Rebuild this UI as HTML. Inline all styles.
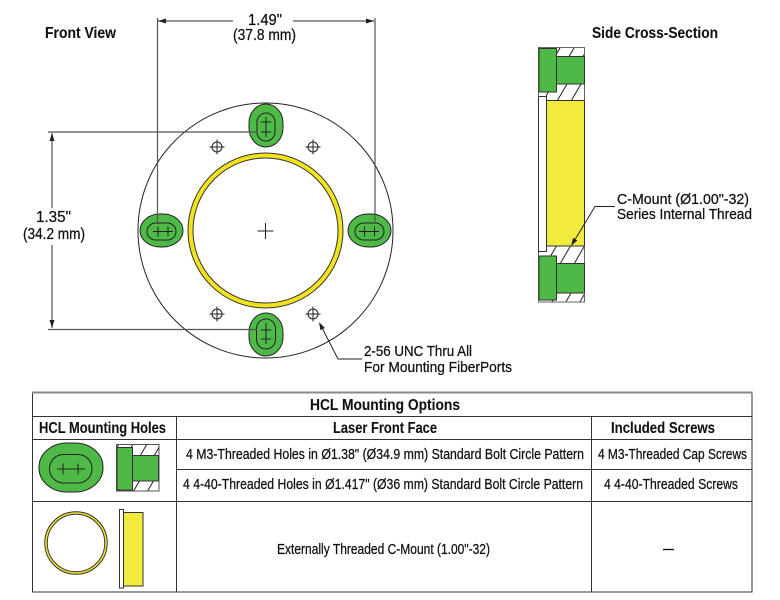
<!DOCTYPE html>
<html><head><meta charset="utf-8"><style>
html,body{margin:0;padding:0;background:#fff;}
svg{display:block;}
text{font-family:"Liberation Sans",sans-serif;fill:#111;stroke:#111;stroke-width:0.25;}
.b{font-weight:bold;stroke-width:0.1;}
</style></head><body>
<svg width="780" height="600" viewBox="0 0 780 600" xmlns="http://www.w3.org/2000/svg">
<defs>
<pattern id="h" patternUnits="userSpaceOnUse" width="14" height="24">
<path d="M0,24 L14,0 M-14,24 L0,0 M14,24 L28,0" stroke="#222" stroke-width="1"/>
</pattern>
</defs>
<rect width="780" height="600" fill="#fff"/>

<!-- Titles -->
<text class="b" x="45" y="38" font-size="16" textLength="71" lengthAdjust="spacingAndGlyphs">Front View</text>
<text class="b" x="592" y="38" font-size="16" textLength="126" lengthAdjust="spacingAndGlyphs">Side Cross-Section</text>

<!-- Front view -->
<circle cx="265.5" cy="230.5" r="127.5" fill="none" stroke="#222" stroke-width="1"/>
<circle cx="265.5" cy="230.5" r="75" fill="none" stroke="#f2e41c" stroke-width="5"/>
<circle cx="265.5" cy="230.5" r="77.5" fill="none" stroke="#333" stroke-width="1"/>
<circle cx="265.5" cy="230.5" r="72.5" fill="none" stroke="#333" stroke-width="1"/>
<path d="M257.5,231 H273.5 M265.5,223 V239" stroke="#222" stroke-width="1"/>

<!-- small holes -->
<g fill="none" stroke="#222" stroke-width="1">
<circle cx="217" cy="147" r="5"/><path d="M209.5,147 H224.5 M217,139.5 V154.5"/>
<circle cx="313" cy="147" r="5"/><path d="M305.5,147 H320.5 M313,139.5 V154.5"/>
<circle cx="217" cy="314" r="5"/><path d="M209.5,314 H224.5 M217,306.5 V321.5"/>
<circle cx="313" cy="314" r="5"/><path d="M305.5,314 H320.5 M313,306.5 V321.5"/>
</g>

<!-- slots -->
<g fill="#4fb947" stroke="#222" stroke-width="1">
<rect x="249" y="104" width="34" height="43" rx="17" ry="19"/>
<rect x="249" y="313" width="34" height="43" rx="17" ry="19"/>
<rect x="140" y="214" width="43" height="33" rx="20" ry="16.5"/>
<rect x="348" y="214" width="43" height="33" rx="20" ry="16.5"/>
</g>
<g fill="none" stroke="#222" stroke-width="1">
<rect x="257" y="113" width="18" height="28" rx="9"/>
<rect x="256.5" y="319" width="19" height="30" rx="9.5"/>
<rect x="147" y="223" width="29" height="17" rx="8.5"/>
<rect x="355" y="223" width="29" height="17" rx="8.5"/>
<path d="M266,117 V137 M261,122 H271 M261,132 H271"/>
<path d="M266,323 V344 M261,330 H271 M261,339 H271"/>
<path d="M153,231.5 H173 M158,226.5 V236.5 M168,226.5 V236.5"/>
<path d="M359,231.5 H379 M364.5,226.5 V236.5 M374.5,226.5 V236.5"/>
</g>

<!-- dimension lines -->
<g stroke="#555" stroke-width="1.2" fill="none">
<path d="M157.5,18 V223 M375,18 V222"/>
<path d="M48,132 H257 M48,329.5 H257"/>
<path d="M158,21 H233 M293,21 H374"/>
<path d="M52,133 V208 M52,245 V328"/>
</g>
<g fill="#222">
<polygon points="158,21 166,18.5 166,23.5"/>
<polygon points="374,21 366,18.5 366,23.5"/>
<polygon points="52,133 49.5,141 54.5,141"/>
<polygon points="52,328 49.5,320 54.5,320"/>
</g>
<text x="248" y="25" font-size="15.5" textLength="34" lengthAdjust="spacingAndGlyphs">1.49"</text>
<text x="233" y="40" font-size="15.5" textLength="63" lengthAdjust="spacingAndGlyphs">(37.8 mm)</text>
<text x="36" y="222" font-size="15.5" textLength="35" lengthAdjust="spacingAndGlyphs">1.35"</text>
<text x="23" y="239" font-size="15.5" textLength="62" lengthAdjust="spacingAndGlyphs">(34.2 mm)</text>

<!-- 2-56 leader -->
<path d="M362,359 H338 L322.7,329.1" stroke="#222" stroke-width="1" fill="none"/>
<polygon points="319,322 324.9,328 320.4,330.2" fill="#222"/>
<text x="364" y="356" font-size="15" textLength="108" lengthAdjust="spacingAndGlyphs">2-56 UNC Thru All</text>
<text x="364" y="372" font-size="15" textLength="148" lengthAdjust="spacingAndGlyphs">For Mounting FiberPorts</text>

<!-- Side cross-section -->
<rect x="538.5" y="47.5" width="46" height="254.5" fill="#fff" stroke="#666" stroke-width="1"/>
<rect x="539" y="48" width="45" height="52" fill="url(#h)"/>
<rect x="539" y="246" width="45" height="55.5" fill="url(#h)"/>
<g stroke="#333" stroke-width="1">
<rect x="538.5" y="96.5" width="8" height="155" fill="#fff"/>
<rect x="546.5" y="100.5" width="38" height="145.5" fill="#f2ea3c"/>
<rect x="539" y="48.5" width="17.5" height="43.5" fill="#4fb947"/>
<rect x="556.5" y="56.5" width="28" height="27.5" fill="#4fb947"/>
<rect x="539" y="256" width="17.5" height="44" fill="#4fb947"/>
<rect x="556.5" y="263.5" width="28" height="29.5" fill="#4fb947"/>
</g>
<path d="M615,206.5 H595 L575.2,239.2" stroke="#222" stroke-width="1" fill="none"/>
<polygon points="571,246 577.3,240.5 573.1,237.9" fill="#222"/>
<text x="617" y="204" font-size="15" textLength="132" lengthAdjust="spacingAndGlyphs">C-Mount (Ø1.00"-32)</text>
<text x="617" y="219" font-size="15" textLength="135" lengthAdjust="spacingAndGlyphs">Series Internal Thread</text>

<!-- Table -->
<rect x="32.5" y="392.5" width="719.5" height="199.5" fill="none" stroke="#333" stroke-width="1"/>
<line x1="32" y1="392.5" x2="752.5" y2="392.5" stroke="#888" stroke-width="2"/>
<g stroke="#333" stroke-width="1">
<line x1="32.5" y1="416.5" x2="752" y2="416.5"/>
<line x1="32.5" y1="439.5" x2="752" y2="439.5"/>
<line x1="176.5" y1="469.5" x2="752" y2="469.5"/>
<line x1="32.5" y1="501.5" x2="752" y2="501.5"/>
<line x1="176.5" y1="416.5" x2="176.5" y2="592"/>
<line x1="591.5" y1="416.5" x2="591.5" y2="592"/>
</g>
<text class="b" x="310" y="410" font-size="16" textLength="150" lengthAdjust="spacingAndGlyphs">HCL Mounting Options</text>
<text class="b" x="39" y="433" font-size="15.5" textLength="127" lengthAdjust="spacingAndGlyphs">HCL Mounting Holes</text>
<text class="b" x="333" y="433" font-size="15.5" textLength="104" lengthAdjust="spacingAndGlyphs">Laser Front Face</text>
<text class="b" x="611" y="433" font-size="15.5" textLength="104" lengthAdjust="spacingAndGlyphs">Included Screws</text>
<text x="186" y="459" font-size="14.5" textLength="398" lengthAdjust="spacingAndGlyphs">4 M3-Threaded Holes in Ø1.38" (Ø34.9 mm) Standard Bolt Circle Pattern</text>
<text x="598" y="459" font-size="14.5" textLength="149" lengthAdjust="spacingAndGlyphs">4 M3-Threaded Cap Screws</text>
<text x="183" y="489" font-size="14.5" textLength="400" lengthAdjust="spacingAndGlyphs">4 4-40-Threaded Holes in Ø1.417" (Ø36 mm) Standard Bolt Circle Pattern</text>
<text x="604" y="489" font-size="14.5" textLength="134" lengthAdjust="spacingAndGlyphs">4 4-40-Threaded Screws</text>
<text x="277" y="554" font-size="14.5" textLength="213" lengthAdjust="spacingAndGlyphs">Externally Threaded C-Mount (1.00"-32)</text>
<line x1="663" y1="549.5" x2="674" y2="549.5" stroke="#111" stroke-width="1.3"/>

<!-- table icons row 1 -->
<rect x="39" y="443" width="64" height="49" rx="28" ry="24" fill="#4fb947" stroke="#222" stroke-width="1"/>
<rect x="49.5" y="454.5" width="42.5" height="28.5" rx="14" fill="none" stroke="#222" stroke-width="1"/>
<path d="M57,469 H85 M63,463.5 V474.5 M78,463.5 V474.5" stroke="#222" stroke-width="1" fill="none"/>
<rect x="116.5" y="444.5" width="42.5" height="46.5" fill="#fff" stroke="#555" stroke-width="1"/>
<rect x="117" y="445" width="42" height="46" fill="url(#h)"/>
<g stroke="#333" stroke-width="1" fill="#4fb947">
<rect x="117" y="447.5" width="15.5" height="42.5"/>
<rect x="132.5" y="455.5" width="26" height="25.5"/>
</g>

<!-- table icons row 3 -->
<circle cx="76" cy="543" r="30" fill="none" stroke="#333" stroke-width="3.5"/>
<circle cx="76" cy="543" r="30" fill="none" stroke="#e9e030" stroke-width="1.6"/>
<rect x="119.5" y="509.5" width="4" height="78.5" fill="#fff" stroke="#333" stroke-width="1"/>
<rect x="123.5" y="512.5" width="19.5" height="73.5" fill="#f2ea3c" stroke="#333" stroke-width="1"/>
</svg>
</body></html>
